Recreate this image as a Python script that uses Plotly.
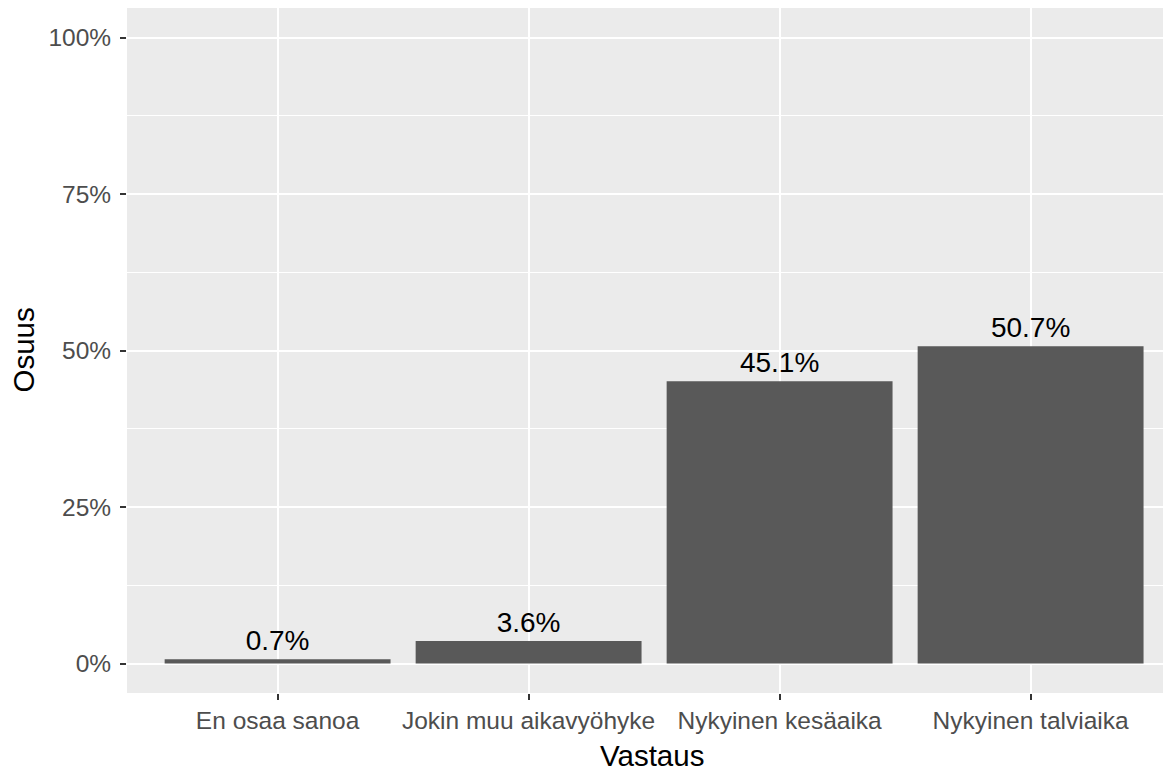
import plotly.graph_objects as go

categories = ["En osaa sanoa", "Jokin muu aikavyöhyke", "Nykyinen kesäaika", "Nykyinen talviaika"]
shares = [0.7, 3.6, 45.1, 50.7]
y_ticks = [0, 25, 50, 75, 100]
y_tick_labels = ["0%", "25%", "50%", "75%", "100%"]

labels = [f"{v:.1f}%" for v in shares]
FONT = "Liberation Sans, Arial, sans-serif"

fig = go.Figure()
fig.add_trace(go.Bar(
    x=list(range(len(categories))),
    y=shares,
    width=0.9,
    marker=dict(color="#595959", line=dict(width=0)),
    text=labels,
    textposition="outside",
    textfont=dict(family=FONT, size=28, color="black"),
    cliponaxis=False,
    hoverinfo="skip",
))

# page body has an 8px margin; the panel runs past the right window edge as in the reference
fig.update_layout(
    width=1171, height=763,
    margin=dict(l=119, r=0, t=0, b=78),
    paper_bgcolor="white",
    plot_bgcolor="#EBEBEB",
    showlegend=False,
    font=dict(family=FONT),
    xaxis=dict(
        automargin=False,
        range=[-0.6, -0.6 + 1052 / 251],
        tickmode="array",
        tickvals=list(range(len(categories))),
        ticktext=categories,
        tickfont=dict(size=24.5, color="#4D4D4D"),
        ticks="outside", ticklen=6, tickwidth=1.5, tickcolor="#333333",
        showgrid=True, gridcolor="white", gridwidth=2,
        zeroline=False, showline=False,
    ),
    yaxis=dict(
        automargin=False,
        range=[-4.7, 104.75],
        tickmode="array",
        tickvals=y_ticks,
        ticktext=y_tick_labels,
        tickfont=dict(size=24.5, color="#4D4D4D"),
        ticks="outside", ticklen=6, tickwidth=1.5, tickcolor="#333333",
        ticklabelstandoff=4,
        showgrid=True, gridcolor="white", gridwidth=2,
        minor=dict(tickvals=[12.5, 37.5, 62.5, 87.5], showgrid=True, gridcolor="white", gridwidth=1, ticks=""),
        zeroline=False, showline=False,
    ),
    annotations=[
        dict(text="Vastaus", xref="paper", yref="paper", x=0.5, y=0,
             xanchor="center", yanchor="middle", xshift=-1, yshift=-62,
             borderpad=0, showarrow=False, font=dict(size=29.5, color="black")),
        dict(text="Osuus", xref="paper", yref="paper", x=0, y=0.5,
             xanchor="center", yanchor="middle", xshift=-104, textangle=-90,
             borderpad=0, showarrow=False, font=dict(size=29.5, color="black")),
    ],
)

fig.write_html("out.html")
